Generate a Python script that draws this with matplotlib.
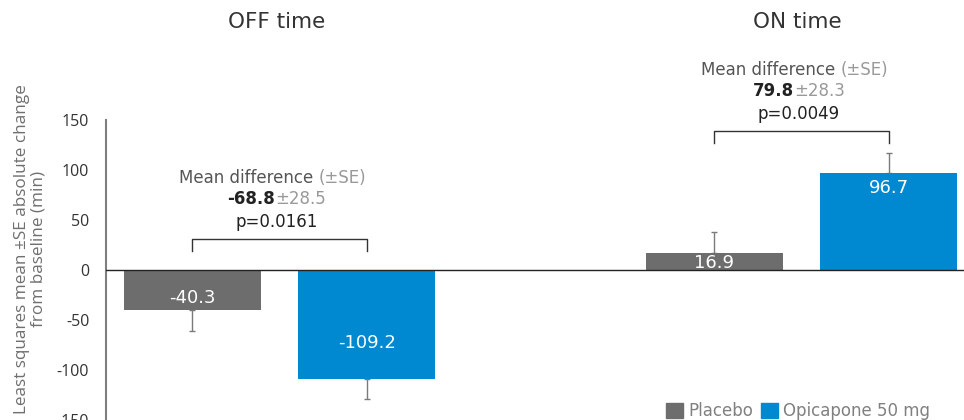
import matplotlib
matplotlib.use("Agg")
import matplotlib.pyplot as plt
import matplotlib.transforms as mtransforms
import numpy as np
from matplotlib.patches import Patch

# data
groups = ["OFF time", "ON time"]
placebo = [-40.3, 16.9]
opicapone = [-109.2, 96.7]
placebo_se = [20.5, 21.0]
opicapone_se = [20.0, 20.5]
diff_values = ["-68.8", "79.8"]
diff_se = ["\u00b128.5", "\u00b128.3"]
p_values = ["p=0.0161", "p=0.0049"]
series_names = ["Placebo", "Opicapone 50 mg"]
yticks = [-150, -100, -50, 0, 50, 100, 150]

GREY = "#6d6d6d"
BLUE = "#0089d0"
TXT = "#6f6f6f"
ANN = "DejaVu Sans"

fig = plt.figure(figsize=(9.64, 4.2), dpi=100)
ax = fig.add_axes([106 / 964, 0, 858 / 964, 300 / 420])


def two_tone(xc, y, parts, size=12):
    """Write text pieces side by side (each with own colour/weight), centred on xc."""
    texts = []
    for s, color, weight in parts:
        texts.append(ax.text(xc, y, s, ha="left", va="center", fontsize=size,
                             color=color, fontweight=weight, family=ANN,
                             clip_on=False))
    fig.canvas.draw()
    r = fig.canvas.get_renderer()
    widths = [t.get_window_extent(r).width for t in texts]
    start = -sum(widths) / 2
    for t, wd in zip(texts, widths):
        t.set_transform(mtransforms.offset_copy(ax.transData, fig=fig,
                                                x=start * 72 / fig.dpi, y=0,
                                                units="points"))
        start += wd
    return texts


x = np.arange(len(groups))
off = 0.167
w = 0.262

b1 = ax.bar(x - off, placebo, w, color=GREY, zorder=2)
b2 = ax.bar(x + off, opicapone, w, color=BLUE, zorder=2)

# one-sided error bars (away from zero)
for xs, vals, ses in [(x - off, placebo, placebo_se), (x + off, opicapone, opicapone_se)]:
    for xi, v, s in zip(xs, vals, ses):
        yerr = [[s], [0]] if v < 0 else [[0], [s]]
        ax.errorbar(xi, v, yerr=yerr, fmt="none", ecolor="#7a7a7a",
                    elinewidth=1, capsize=2.5, capthick=1, zorder=1)

# value labels inside bars, clipped to the bar
for bars, vals, shifts in [(b1, placebo, [12, 10]), (b2, opicapone, [36, 15])]:
    for rect, v, sh in zip(bars, vals, shifts):
        ty = v + sh if v < 0 else v - sh
        t = ax.text(rect.get_x() + rect.get_width() / 2, ty, f"{v:.1f}",
                    ha="center", va="center", color="white", fontsize=13,
                    family=ANN, zorder=3)
        t.set_clip_path(rect)

ax.axhline(0, color="#222222", lw=1, zorder=3)

ax.set_xlim(-0.332, 1.311)
ax.set_ylim(-150, 150)
ax.set_yticks(yticks)
ax.set_yticklabels([str(t) for t in yticks], fontsize=11.5, color="#333333",
                   family="Open Sans")
ax.tick_params(axis="y", length=0, pad=12)
ax.set_xticks([])
for s in ["top", "right", "bottom"]:
    ax.spines[s].set_visible(False)
ax.spines["left"].set_color("#7f7f7f")
ax.spines["left"].set_linewidth(1.5)

# brackets and difference annotations
bracket_y = [31, 139]
for i in range(len(groups)):
    by = bracket_y[i]
    ax.plot([i - off, i - off, i + off, i + off], [by - 12, by, by, by - 12],
            color="#333333", lw=1, clip_on=False)
    two_tone(i - 0.013, by + 61, [("Mean difference ", "#555555", "normal"),
                                  ("(\u00b1SE)", "#999999", "normal")])
    two_tone(i - 0.005, by + 40, [(diff_values[i], "#222222", "bold"),
                                  (diff_se[i], "#999999", "normal")])
    ax.text(i - 0.005, by + 17, p_values[i], ha="center", va="center",
            fontsize=12, color="#222222", family=ANN, clip_on=False)

# group titles
fig.text(277 / 964, 1 - 22 / 420, groups[0], ha="center", va="center",
         fontsize=15.5, color="#333333", family="DejaVu Sans")
fig.text(797 / 964, 1 - 22 / 420, groups[1], ha="center", va="center",
         fontsize=15.5, color="#333333", family="DejaVu Sans")

fig.text(30 / 964, 1 - 249 / 420,
         "Least squares mean \u00b1SE absolute change\nfrom baseline (min)",
         rotation=90, ha="center", va="center", fontsize=12.3, color=TXT,
         family="Open Sans", linespacing=1.05)

handles = [Patch(color=GREY), Patch(color=BLUE)]
fig.legend(handles, series_names, loc="center right",
           bbox_to_anchor=(930 / 964, 1 - 411 / 420), ncol=2, frameon=False,
           handlelength=1.0, handleheight=1.0, handletextpad=0.3,
           columnspacing=0.5, borderaxespad=0, borderpad=0,
           prop={"family": ANN, "size": 12}, labelcolor="#808080")

fig.savefig("out.png", dpi=100)
